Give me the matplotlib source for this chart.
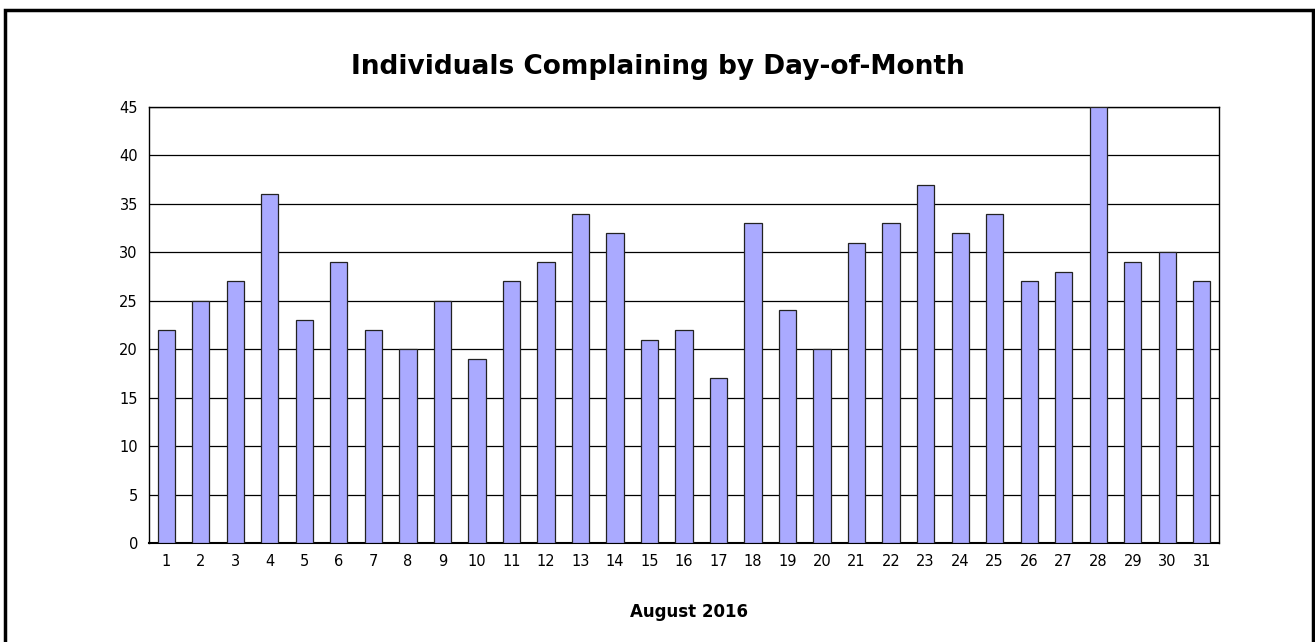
import matplotlib
matplotlib.use('Agg')
import matplotlib.pyplot as plt
from matplotlib.patches import Rectangle

# Данные: жалобы по дням месяца (август 2016)
days = list(range(1, 32))
counts = [22, 25, 27, 36, 23, 29, 22, 20, 25, 19, 27, 29, 34, 32, 21, 22,
          17, 33, 24, 20, 31, 33, 37, 32, 34, 27, 28, 45, 29, 30, 27]
y_ticks = list(range(0, 50, 5))

title = 'Individuals Complaining by Day-of-Month'
x_label = 'August 2016'


def main():
    fig = plt.figure(figsize=(13.15, 6.42), dpi=100)
    ax = fig.add_axes([149 / 1315, 99 / 642, 1070 / 1315, 436 / 642])

    ax.bar(days, counts, width=0.5, color='#aaaaff', edgecolor='#222222',
           linewidth=0.9, zorder=3)

    ax.set_xlim(0.5, 31.5)
    ax.set_ylim(0, 45)
    ax.set_yticks(y_ticks)
    ax.set_xticks(days)
    ax.tick_params(length=0, labelsize=10.5, pad=8)
    ax.yaxis.grid(True, color='black', linewidth=0.9, zorder=1)
    for side in ['left', 'right', 'top']:
        ax.spines[side].set_linewidth(1.0)
    ax.spines['bottom'].set_linewidth(1.5)

    fig.text(0.5, 1 - 67 / 642, title, ha='center', va='center',
             fontsize=19, fontweight='bold')
    fig.text(689 / 1315, 1 - 612 / 642, x_label, ha='center', va='center',
             fontsize=12, fontweight='bold')

    # рамка вокруг всего рисунка
    fig.patches.append(Rectangle((5 / 1315, -0.02), 1308 / 1315, 1 - 10 / 642 + 0.02,
                                 transform=fig.transFigure, fill=False,
                                 edgecolor='black', linewidth=2.5))

    fig.savefig('out.png', dpi=100)


if __name__ == "__main__":
    main()
